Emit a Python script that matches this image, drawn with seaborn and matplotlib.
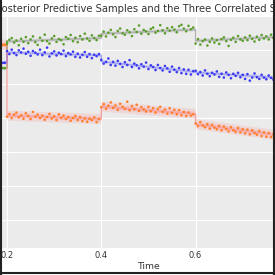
import numpy as np
import pandas as pd
import matplotlib
matplotlib.use("Agg")
import matplotlib.pyplot as plt
import seaborn as sns
from matplotlib.lines import Line2D

# ---------------- data ----------------
t0, dt, n = 0.19, 0.005, 117
time = np.round(t0 + dt * np.arange(n), 3)

green = [2.47, 2.46,
         3.18, 3.30, 3.35, 3.22, 3.28, 3.14, 3.33, 3.24, 3.38, 3.20,
         3.31, 3.40, 3.23, 3.15, 3.36, 3.27, 3.45, 3.26, 3.19, 3.34,
         3.41, 3.24, 3.32, 3.29, 3.17, 3.38, 3.33, 3.44, 3.26, 3.36,
         3.23, 3.41, 3.31, 3.48, 3.34, 3.27, 3.43, 3.35, 3.29, 3.42,
         3.42, 3.54, 3.40, 3.51, 3.59, 3.46, 3.38, 3.56, 3.63, 3.49,
         3.45, 3.58, 3.52, 3.41, 3.61, 3.53, 3.72, 3.48, 3.59, 3.55,
         3.47, 3.62, 3.66, 3.51, 3.56, 3.73, 3.58, 3.49, 3.64, 3.57,
         3.67, 3.60, 3.52, 3.70, 3.74, 3.63, 3.55, 3.71, 3.61, 3.66,
         3.19, 3.32, 3.16, 3.26, 3.31, 3.13, 3.24, 3.34, 3.22, 3.29,
         3.18, 3.32, 3.37, 3.26, 3.12, 3.30, 3.36, 3.24, 3.41, 3.31,
         3.27, 3.37, 3.29, 3.42, 3.33, 3.25, 3.39, 3.30, 3.44, 3.34,
         3.40, 3.31, 3.45, 3.36, 3.39]

blue = [2.62, 2.63,
        2.97, 2.88, 3.01, 2.91, 2.85, 2.99, 2.93, 3.04, 2.89, 2.95,
        2.83, 2.97, 2.92, 2.87, 3.01, 2.85, 2.93, 3.07, 2.81, 2.90,
        2.96, 2.84, 2.92, 2.88, 2.98, 2.82, 2.91, 2.87, 2.95, 2.80,
        2.89, 2.78, 2.86, 2.94, 2.80, 2.88, 2.76, 2.86, 2.82, 2.88,
        2.71, 2.60, 2.65, 2.75, 2.56, 2.65, 2.54, 2.68, 2.59, 2.50,
        2.64, 2.56, 2.70, 2.50, 2.60, 2.55, 2.46, 2.58, 2.51, 2.63,
        2.44, 2.55, 2.50, 2.41, 2.56, 2.47, 2.40, 2.53, 2.46, 2.36,
        2.51, 2.42, 2.35, 2.47, 2.32, 2.43, 2.30, 2.42, 2.28, 2.38,
        2.39, 2.29, 2.35, 2.25, 2.40, 2.30, 2.23, 2.33, 2.28, 2.37,
        2.21, 2.30, 2.19, 2.34, 2.27, 2.17, 2.30, 2.24, 2.33, 2.20,
        2.27, 2.15, 2.29, 2.10, 2.19, 2.31, 2.20, 2.15, 2.27, 2.19,
        2.14, 2.25, 2.18, 2.13, 2.17]

orange = [3.15, 3.16,
          1.04, 1.12, 1.00, 1.10, 1.16, 1.02, 1.08, 0.98, 1.14, 1.06,
          0.97, 1.18, 1.04, 1.10, 1.00, 1.07, 0.95, 1.03, 1.12, 0.99,
          1.05, 0.94, 1.11, 1.01, 1.07, 0.97, 1.03, 0.92, 1.00, 1.06,
          0.94, 1.03, 0.91, 0.99, 0.89, 0.98, 0.94, 1.02, 0.88, 0.97,
          1.32, 1.41, 1.27, 1.36, 1.46, 1.30, 1.37, 1.24, 1.42, 1.33,
          1.27, 1.48, 1.23, 1.35, 1.26, 1.39, 1.21, 1.32, 1.25, 1.19,
          1.33, 1.20, 1.29, 1.16, 1.27, 1.33, 1.18, 1.25, 1.13, 1.29,
          1.15, 1.24, 1.11, 1.23, 1.08, 1.18, 1.06, 1.16, 1.07, 1.11,
          0.84, 0.76, 0.88, 0.78, 0.73, 0.82, 0.69, 0.80, 0.72, 0.67,
          0.77, 0.64, 0.75, 0.68, 0.61, 0.73, 0.64, 0.59, 0.71, 0.58,
          0.67, 0.55, 0.66, 0.52, 0.64, 0.56, 0.51, 0.62, 0.47, 0.58,
          0.45, 0.56, 0.44, 0.52, 0.46]

# underlying (mean) signal, read at the change points
mean_t = [0.18, 0.2, 0.2, 0.4, 0.4, 0.6, 0.6, 0.77]
green_mean = [2.47, 2.47, 3.25, 3.35, 3.48, 3.60, 3.27, 3.38]
blue_mean = [2.62, 2.62, 2.93, 2.84, 2.66, 2.35, 2.34, 2.19]
orange_mean = [3.15, 3.15, 1.07, 0.97, 1.34, 1.12, 0.82, 0.50]
band_half = {"green": 0.06, "blue": 0.06, "orange": 0.15}

x_ticks = [0.2, 0.4, 0.6]
x_ticklabels = ["0.2", "0.4", "0.6"]

series_names = ["green", "blue", "orange"]
dot_colors = {"green": "#5a9e2c", "blue": "#3a3af2", "orange": "#ff7f2a"}
line_colors = {"green": "#b0b0b0", "blue": "#a5a5f2", "orange": "#f5a3a3"}
band_colors = {"green": "#a8a8a8", "blue": "#9f9ff5", "orange": "#ff8a8a"}

df = pd.DataFrame({
    "Time": np.concatenate([time] * 3),
    "value": np.concatenate([green, blue, orange]),
    "series": np.repeat(series_names, n),
})
means = {"green": green_mean, "blue": blue_mean, "orange": orange_mean}

# ---------------- plot ----------------
sns.set_style("darkgrid", {"axes.facecolor": "#EBEBEB", "grid.color": "white"})
plt.rcParams["font.family"] = ["DejaVu Sans"]

fig = plt.figure(figsize=(2.75, 2.75), dpi=100)
ax = fig.add_axes([-87.3 / 275, 27 / 275, 471.5 / 275, 231 / 275])

mt = np.array(mean_t)
for s in series_names:
    m = np.array(means[s])
    hw = band_half[s]
    ax.fill_between(mt, m - hw, m + hw, color=band_colors[s], alpha=0.2, lw=0)
    ax.fill_between(mt, m - hw * 0.45, m + hw * 0.45, color=band_colors[s], alpha=0.3, lw=0)
    ax.plot(mt, m, color=line_colors[s], lw=1.0, zorder=2)
    # segment before the first change point drawn in the series colour
    k = 2 if s == "orange" else 3
    ax.plot(mt[:k], m[:k], color=dot_colors[s], lw=1.2, zorder=2)

sns.scatterplot(data=df, x="Time", y="value", hue="series", palette=dot_colors,
                s=3.5, linewidth=0, legend=False, ax=ax, zorder=3)

ax.set_xlim(0, 1)
ax.set_ylim(-2.82, 3.97)
ax.set_xticks(x_ticks)
ax.set_xticklabels(x_ticklabels)
ax.set_yticks([-2, -1, 0, 1, 2, 3])
ax.set_yticklabels([])
ax.tick_params(axis="x", labelsize=6.0, pad=2, length=0, colors="#333333")
ax.tick_params(axis="y", length=0)
ax.set_xlabel("Time", fontsize=6.7, labelpad=1.5, color="#333333")
ax.set_ylabel("")
ax.set_title("Posterior Predictive Samples and the Three Correlated Series",
             fontsize=7.2, pad=3.5, color="#333333")
for sp in ax.spines.values():
    sp.set_visible(False)

# dark frame of the picture
for xs, ys in [([0.003, 0.003], [0, 1]), ([0.996, 0.996], [0, 1]), ([0, 1], [0.006, 0.006])]:
    fig.add_artist(Line2D(xs, ys, transform=fig.transFigure, color="#222222", lw=1.5))

fig.savefig("out.png", dpi=100)
